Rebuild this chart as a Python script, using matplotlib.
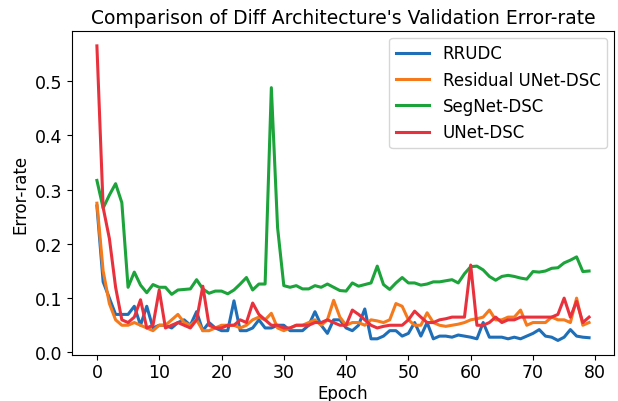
import numpy as np
import matplotlib
matplotlib.use("Agg")
import matplotlib.pyplot as plt

epochs = list(range(80))

rrudc = [0.27, 0.13, 0.10, 0.07, 0.07, 0.07, 0.085, 0.05, 0.085, 0.045,
         0.05, 0.05, 0.045, 0.055, 0.06, 0.05, 0.075, 0.04, 0.055, 0.045,
         0.04, 0.04, 0.095, 0.04, 0.04, 0.045, 0.06, 0.045, 0.045, 0.05,
         0.05, 0.04, 0.04, 0.04, 0.05, 0.075, 0.05, 0.035, 0.06, 0.06,
         0.045, 0.04, 0.05, 0.08, 0.025, 0.025, 0.03, 0.04, 0.04, 0.03,
         0.035, 0.055, 0.03, 0.055, 0.025, 0.03, 0.03, 0.028, 0.032, 0.03,
         0.028, 0.025, 0.055, 0.028, 0.028, 0.028, 0.025, 0.028, 0.025, 0.03,
         0.035, 0.042, 0.03, 0.028, 0.022, 0.028, 0.042, 0.03, 0.028, 0.027]

res_unet = [0.275, 0.15, 0.09, 0.06, 0.05, 0.05, 0.055, 0.05, 0.045, 0.04,
            0.05, 0.05, 0.06, 0.07, 0.055, 0.05, 0.06, 0.04, 0.04, 0.045,
            0.05, 0.05, 0.05, 0.045, 0.05, 0.06, 0.065, 0.06, 0.072, 0.045,
            0.04, 0.045, 0.05, 0.05, 0.055, 0.06, 0.05, 0.06, 0.096, 0.065,
            0.05, 0.055, 0.055, 0.05, 0.06, 0.058, 0.055, 0.06, 0.09, 0.085,
            0.06, 0.05, 0.05, 0.073, 0.055, 0.05, 0.048, 0.05, 0.052, 0.055,
            0.06, 0.062, 0.065, 0.078, 0.06, 0.06, 0.065, 0.065, 0.078, 0.05,
            0.055, 0.055, 0.055, 0.065, 0.06, 0.06, 0.055, 0.1, 0.05, 0.055]

segnet = [0.317, 0.266, 0.29, 0.311, 0.276, 0.12, 0.148, 0.124, 0.11, 0.125,
          0.12, 0.12, 0.107, 0.115, 0.116, 0.117, 0.134, 0.117, 0.109, 0.113,
          0.113, 0.108, 0.115, 0.126, 0.138, 0.115, 0.126, 0.126, 0.488, 0.23,
          0.123, 0.12, 0.123, 0.117, 0.117, 0.123, 0.12, 0.126, 0.12, 0.114,
          0.113, 0.128, 0.122, 0.125, 0.128, 0.159, 0.125, 0.116, 0.128, 0.138,
          0.128, 0.128, 0.124, 0.126, 0.13, 0.13, 0.132, 0.134, 0.128, 0.145,
          0.158, 0.159, 0.152, 0.14, 0.133, 0.14, 0.142, 0.14, 0.137, 0.135,
          0.149, 0.148, 0.15, 0.155, 0.156, 0.165, 0.17, 0.176, 0.149, 0.15]

unet = [0.565, 0.267, 0.21, 0.12, 0.06, 0.055, 0.065, 0.097, 0.045, 0.05,
        0.115, 0.045, 0.05, 0.055, 0.05, 0.045, 0.06, 0.122, 0.05, 0.045,
        0.045, 0.05, 0.05, 0.06, 0.055, 0.091, 0.07, 0.06, 0.05, 0.05,
        0.045, 0.045, 0.05, 0.05, 0.05, 0.055, 0.055, 0.06, 0.055, 0.05,
        0.05, 0.078, 0.07, 0.06, 0.05, 0.045, 0.048, 0.05, 0.05, 0.05,
        0.06, 0.076, 0.065, 0.055, 0.055, 0.06, 0.062, 0.065, 0.065, 0.065,
        0.161, 0.05, 0.05, 0.055, 0.065, 0.055, 0.06, 0.06, 0.065, 0.065,
        0.065, 0.065, 0.065, 0.065, 0.07, 0.1, 0.065, 0.094, 0.055, 0.065]

labels = ["RRUDC", "Residual UNet-DSC", "SegNet-DSC", "UNet-DSC"]
colors = ["#1f6fb8", "#f57a1c", "#1ca33a", "#e8313c"]

fig, ax = plt.subplots(figsize=(6.18, 4.02), dpi=100)
for ys, lab, c in zip([rrudc, res_unet, segnet, unet], labels, colors):
    ax.plot(epochs, ys, color=c, lw=2.2, label=lab)

ax.set_title("Comparison of Diff Architecture's Validation Error-rate", fontsize=13.5)
ax.set_xlabel("Epoch", fontsize=12, labelpad=2)
ax.set_ylabel("Error-rate", fontsize=12)
ax.set_xticks(range(0, 81, 10))
ax.tick_params(labelsize=12.5)
ax.tick_params(axis="x", pad=2)
ax.legend(loc="upper right", fontsize=12, borderaxespad=0.4)

plt.subplots_adjust(left=0.117, right=0.993, top=0.92, bottom=0.114)
fig.savefig("out.png", dpi=100)
